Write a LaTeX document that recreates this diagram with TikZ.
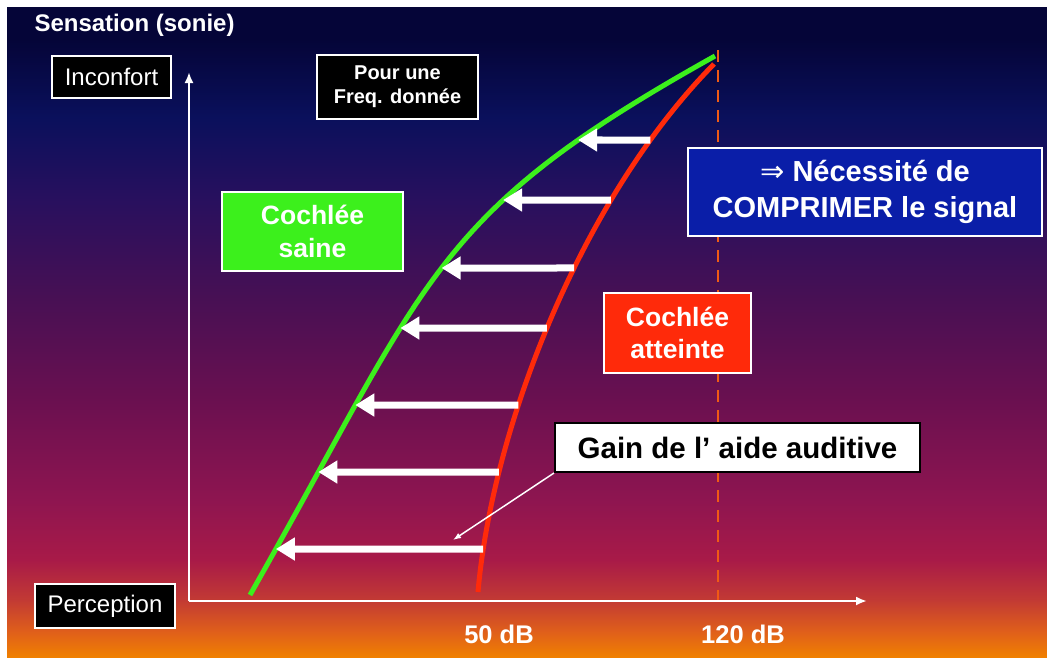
\documentclass[tikz,border=0pt]{standalone}
\usepackage{fontspec}
\setmainfont{Liberation Sans}
\newfontfamily\arrowfont{DejaVu Sans}
\usetikzlibrary{arrows,arrows.meta,calc,intersections}

\definecolor{bgtop}{RGB}{5,5,56}
\definecolor{bgnavy}{RGB}{10,16,92}
\definecolor{bgindigo}{RGB}{40,16,94}
\definecolor{bgpurple}{RGB}{72,16,84}
\definecolor{bgplum}{RGB}{106,16,80}
\definecolor{bgwine}{RGB}{142,21,80}
\definecolor{bgcrimson}{RGB}{168,26,72}
\definecolor{bgbrick}{RGB}{194,58,52}
\definecolor{bgrust}{RGB}{224,96,26}
\definecolor{bgorange}{RGB}{240,128,0}
\definecolor{healthygreen}{RGB}{60,240,28}
\definecolor{impairedred}{RGB}{255,42,10}
\definecolor{limitorange}{RGB}{240,90,20}
\definecolor{noteblue}{RGB}{10,30,168}

\pgfdeclareverticalshading{slidebg}{100bp}{%
   color(0bp)=(bgorange); color(25bp)=(bgorange); color(26.9bp)=(bgrust);
   color(29.4bp)=(bgbrick); color(32.5bp)=(bgcrimson); color(37.1bp)=(bgwine);
   color(44.8bp)=(bgplum); color(52.5bp)=(bgpurple); color(60.2bp)=(bgindigo);
   color(66.5bp)=(bgnavy); color(72.5bp)=(bgtop); color(75bp)=(bgtop);
   color(100bp)=(bgtop)}

\tikzset{
   axisline/.style  = {-{Latex[length=11pt,width=9pt]}, draw=white, line width=2.5pt},
   darkbox/.style   = {draw=white, fill=black, line width=2pt, text=white, inner sep=0pt},
   colorbox/.style  = {draw=white, line width=2pt, text=white, inner sep=0pt, align=center},
   gainarrow/.style = {-{Triangle[length=19pt,width=22pt]}, draw=white, line width=7pt},
   pointer/.style   = {-{Latex[length=8pt,width=6pt]}, draw=white, line width=1.5pt},
   healthy/.style   = {draw=healthygreen, line width=5pt},
   impaired/.style  = {draw=impairedred, line width=5pt},
   limit/.style     = {draw=limitorange, line width=2.5pt, dash pattern=on 12pt off 8pt},
}

\begin{document}
\begin{tikzpicture}[x=1pt,y=-1pt]

   % slide background
   \fill[white] (0,0) rectangle (1047,657);
   \shade[shading=slidebg] (7,7) rectangle (1047,657);
   \useasboundingbox (0,0) rectangle (1047,657);

   % axes
   \coordinate (origin) at (189,601);
   \coordinate (ytip)   at (189,72);
   \coordinate (xtip)   at (867,601);
   \coordinate (top120) at (718,50);
   \coordinate (bot120) at (718,601);
   \draw[limit] (top120) -- (bot120);
   \draw[axisline] (origin) -- (ytip);
   \draw[axisline] (origin) -- (xtip);

   % curves
   \draw[healthy, name path=saine]
      (250,595) .. controls (431,276) and (430,215) .. (715,56);
   \draw[impaired, name path=atteinte]
      (478,592) .. controls (492,430) and (580,200) .. (714,64);

   % gain arrows, from the red curve to the green one
   \foreach \i/\y in {1/549, 2/472, 3/405, 4/328, 5/268, 6/200, 7/140}{
      \path[name path=row\i] (150,\y) -- (900,\y);
      \path[name intersections={of=atteinte and row\i, by=red\i}];
      \path[name intersections={of=saine and row\i, by=green\i}];
      \draw[gainarrow] (red\i) -- (green\i);
   }

   % labels
   \node[anchor=west, text=white, font=\bfseries\fontsize{24}{28}\selectfont]
      (sensation) at (31,25) {Sensation (sonie)};
   \node[darkbox, minimum width=119pt, minimum height=42pt,
      font=\fontsize{24}{28}\selectfont] (inconfort) at (111.5,77) {Inconfort};
   \node[darkbox, minimum width=140pt, minimum height=44pt,
      font=\fontsize{24}{28}\selectfont] (perception) at (105,606) {Perception};
   \node[darkbox, minimum width=161pt, minimum height=64pt, align=center,
      font=\bfseries\fontsize{20}{24}\selectfont] (freq) at (397.5,87)
      {Pour une\\Freq. donnée};
   \node[colorbox, fill=healthygreen, minimum width=181pt, minimum height=79pt,
      font=\bfseries\fontsize{26.5}{33}\selectfont] (saine) at (312.5,231.5)
      {Cochlée\\saine};
   \node[colorbox, fill=impairedred, minimum width=147pt, minimum height=80pt,
      font=\bfseries\fontsize{26.5}{32}\selectfont] (atteinte) at (677.5,333)
      {Cochlée\\atteinte};
   \node[colorbox, fill=noteblue, minimum width=354pt, minimum height=88pt,
      font=\bfseries\fontsize{29}{36}\selectfont] (comprimer) at (865,192)
      {{\arrowfont\mdseries ⇒} Nécessité de\\COMPRIMER le signal};
   \node[draw=black, fill=white, line width=2pt, inner sep=0pt,
      minimum width=365pt, minimum height=49pt,
      font=\bfseries\fontsize{29.5}{34}\selectfont] (gain) at (737.5,447.5)
      {Gain de l’ aide auditive};
   \node[text=white, font=\bfseries\fontsize{25.5}{30}\selectfont]
      (db50) at (499,634) {50 dB};
   \node[text=white, font=\bfseries\fontsize{25.5}{30}\selectfont]
      (db120) at (743,634) {120 dB};

   \coordinate (gaintip) at (453,540);
   \draw[pointer] (gain.south west) -- (gaintip);

\end{tikzpicture}
\end{document}
